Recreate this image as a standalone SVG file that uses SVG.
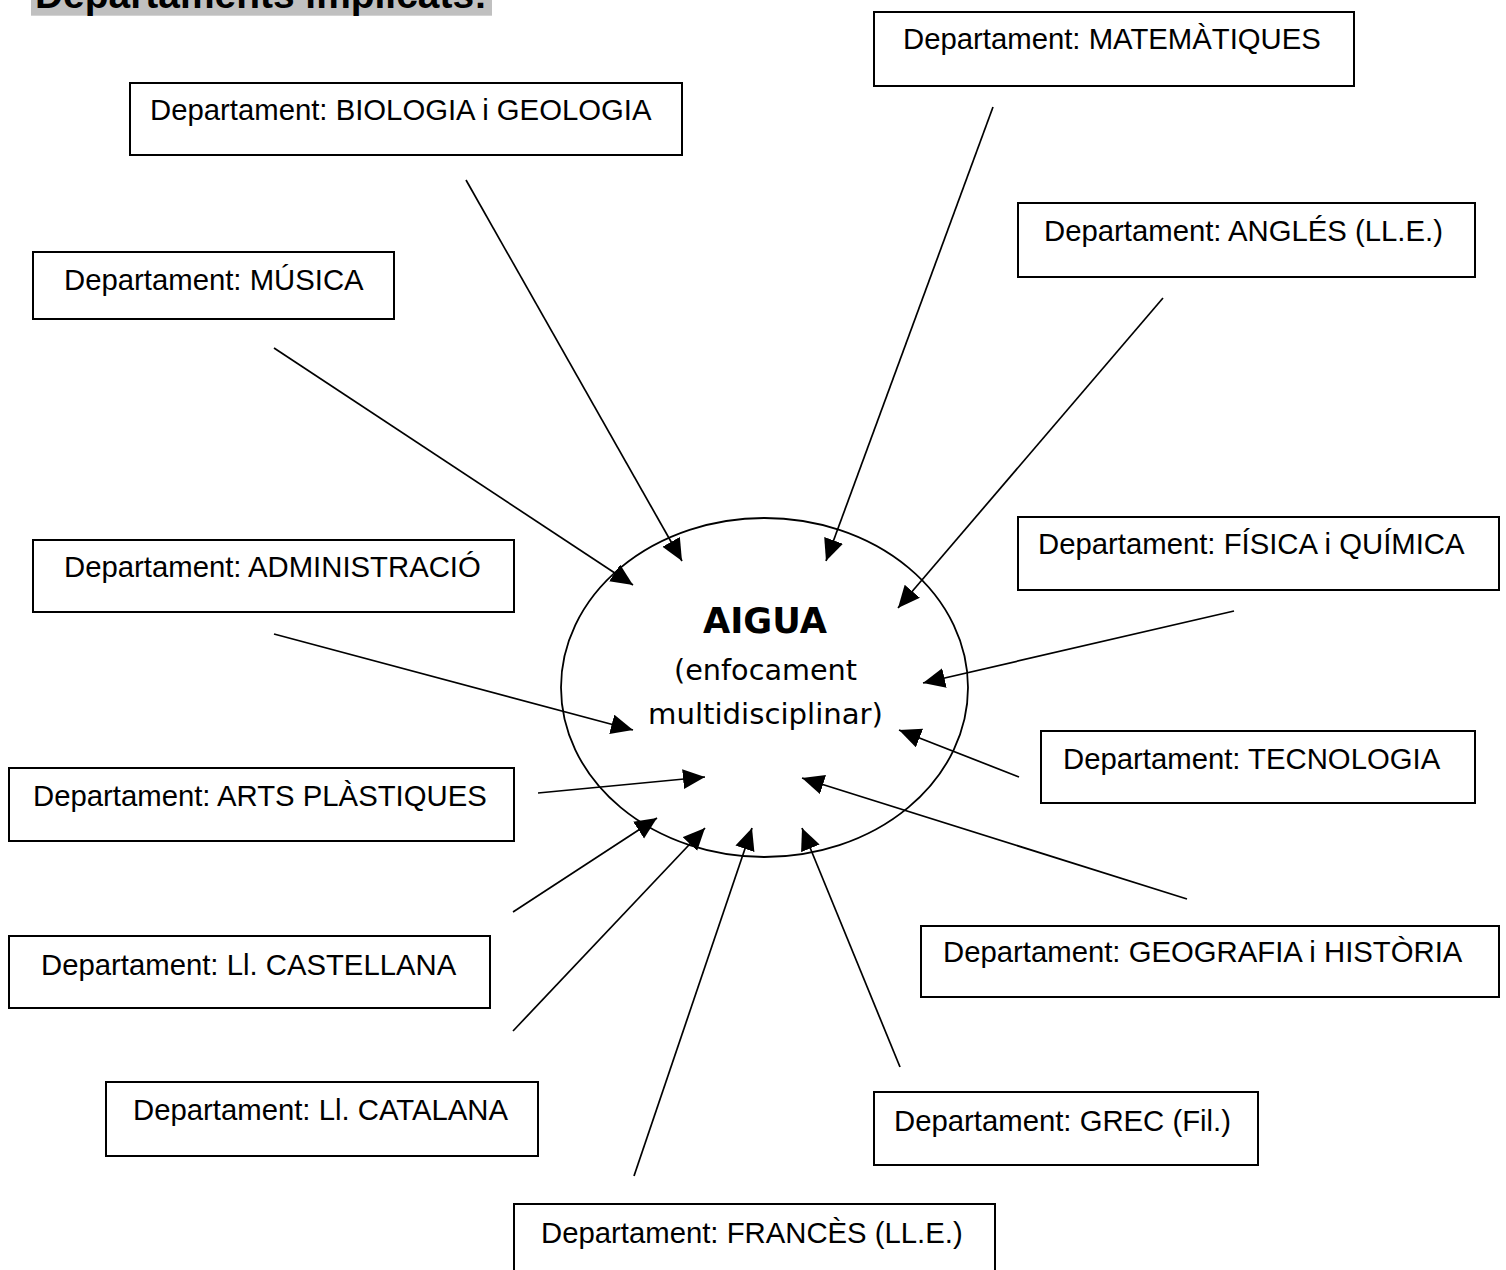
<svg xmlns="http://www.w3.org/2000/svg" width="1506" height="1270" viewBox="0 0 1506 1270">
<style>
.box{fill:#fff;stroke:#000;stroke-width:2}
.lbl{font-family:"Liberation Sans",Arial,sans-serif;font-size:29.3px;fill:#000}
.con{stroke:#000;stroke-width:1.7;fill:none;marker-end:url(#ah)}
.ctr{font-family:"Comic Sans MS","DejaVu Sans",sans-serif;fill:#000;text-anchor:middle}
</style>
<defs>
<marker id="ah" markerUnits="userSpaceOnUse" markerWidth="24" markerHeight="22" refX="22" refY="10" orient="auto">
<path d="M0,0 L22,10 L0,20 z" fill="#000"/>
</marker>
</defs>
<rect width="1506" height="1270" fill="#fff"/>
<g id="title">
<rect x="31" y="-40" width="461" height="55.7" fill="#c0c0c0"/>
<text x="35" y="8" font-family="'Liberation Sans',Arial,sans-serif" font-weight="bold" font-size="38.7" textLength="452" lengthAdjust="spacingAndGlyphs">Departaments implicats:</text>
</g>
<g id="center">
<ellipse cx="764.5" cy="687.5" rx="203.5" ry="169.5" fill="none" stroke="#000" stroke-width="1.8"/>
<text class="ctr" x="765" y="633" font-size="36" font-weight="bold" textLength="124" lengthAdjust="spacingAndGlyphs">AIGUA</text>
<text class="ctr" x="765.5" y="680" font-size="29" textLength="183" lengthAdjust="spacingAndGlyphs">(enfocament</text>
<text class="ctr" x="765.5" y="724" font-size="29" textLength="235" lengthAdjust="spacingAndGlyphs">multidisciplinar)</text>
</g>
<g id="connectors">
<line class="con" x1="466" y1="180" x2="682" y2="561"/>
<line class="con" x1="993" y1="107" x2="826" y2="561"/>
<line class="con" x1="1163" y1="298" x2="898" y2="608"/>
<line class="con" x1="274" y1="348" x2="633" y2="585"/>
<line class="con" x1="1234" y1="611" x2="923" y2="683"/>
<line class="con" x1="274" y1="634" x2="633" y2="730"/>
<line class="con" x1="1019" y1="777" x2="899" y2="730"/>
<line class="con" x1="538" y1="793" x2="705" y2="777"/>
<line class="con" x1="1187" y1="899" x2="802" y2="778"/>
<line class="con" x1="513" y1="912" x2="657" y2="818"/>
<line class="con" x1="513" y1="1031" x2="705" y2="828"/>
<line class="con" x1="634" y1="1176" x2="752" y2="828"/>
<line class="con" x1="900" y1="1067" x2="802" y2="828"/>
</g>
<g id="biologia"><rect class="box" x="130" y="83" width="552" height="72"/><text class="lbl" x="150" y="120">Departament: BIOLOGIA i GEOLOGIA</text></g>
<g id="matematiques"><rect class="box" x="874" y="12" width="480" height="74"/><text class="lbl" x="903" y="49">Departament: MATEMÀTIQUES</text></g>
<g id="angles"><rect class="box" x="1018" y="203" width="457" height="74"/><text class="lbl" x="1044" y="241">Departament: ANGLÉS (LL.E.)</text></g>
<g id="musica"><rect class="box" x="33" y="252" width="361" height="67"/><text class="lbl" x="64" y="290">Departament: MÚSICA</text></g>
<g id="administracio"><rect class="box" x="33" y="540" width="481" height="72"/><text class="lbl" x="64" y="577">Departament: ADMINISTRACIÓ</text></g>
<g id="fisica"><rect class="box" x="1018" y="517" width="481" height="73"/><text class="lbl" x="1038" y="554">Departament: FÍSICA i QUÍMICA</text></g>
<g id="tecnologia"><rect class="box" x="1041" y="731" width="434" height="72"/><text class="lbl" x="1063" y="769">Departament: TECNOLOGIA</text></g>
<g id="arts"><rect class="box" x="9" y="768" width="505" height="73"/><text class="lbl" x="33" y="806">Departament: ARTS PLÀSTIQUES</text></g>
<g id="castellana"><rect class="box" x="9" y="936" width="481" height="72"/><text class="lbl" x="41" y="975">Departament: Ll. CASTELLANA</text></g>
<g id="geografia"><rect class="box" x="921" y="926" width="578" height="71"/><text class="lbl" x="943" y="962">Departament: GEOGRAFIA i HISTÒRIA</text></g>
<g id="catalana"><rect class="box" x="106" y="1082" width="432" height="74"/><text class="lbl" x="133" y="1120">Departament: Ll. CATALANA</text></g>
<g id="grec"><rect class="box" x="874" y="1092" width="384" height="73"/><text class="lbl" x="894" y="1131">Departament: GREC (Fil.)</text></g>
<g id="frances"><rect class="box" x="514" y="1204" width="481" height="74"/><text class="lbl" x="541" y="1243">Departament: FRANCÈS (LL.E.)</text></g>
</svg>
